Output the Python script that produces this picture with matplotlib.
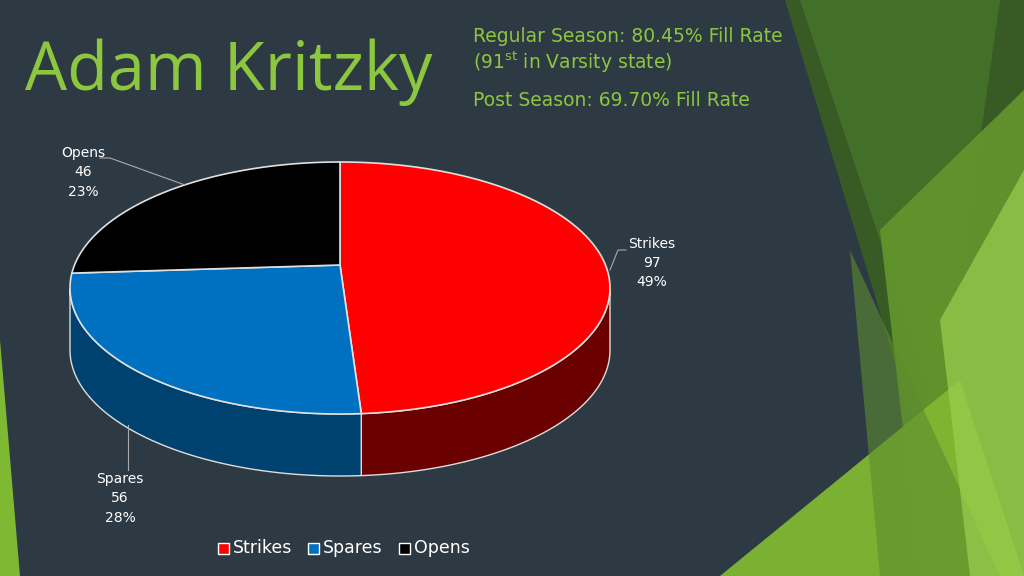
import numpy as np
import matplotlib
matplotlib.use("Agg")
import matplotlib.pyplot as plt
from matplotlib.patches import Polygon

categories = ["Strikes", "Spares", "Opens"]
values = [97, 56, 46]
percents = ["49%", "28%", "23%"]
top_colors = ["#ff0000", "#0070c0", "#000000"]
side_colors = ["#6a0000", "#00426f", "#111111"]

fig = plt.figure(figsize=(10.24, 5.76), dpi=100)
fig.patch.set_facecolor("#2d3a44")
ax = fig.add_axes([0, 0, 1, 1])
ax.set_xlim(0, 1024); ax.set_ylim(576, 0); ax.axis("off")
ax.set_facecolor("#2d3a44")

shapes = [
    ([(785, 0), (1024, 0), (1024, 576), (960, 576)], "#3a5f22", 0.9),
    ([(800, 0), (1000, 0), (940, 420)], "#44732a", 0.9),
    ([(880, 230), (1024, 90), (1024, 576), (920, 576)], "#64962c", 0.9),
    ([(720, 576), (960, 380), (1024, 576)], "#7fb832", 0.95),
    ([(850, 250), (1000, 576), (880, 576)], "#5d8c2f", 0.6),
    ([(940, 320), (1024, 170), (1024, 576), (970, 576)], "#9ccf4f", 0.7),
    ([(0, 340), (20, 576), (0, 576)], "#7fb832", 1.0),
]
for pts, c, a in shapes:
    ax.add_patch(Polygon(pts, closed=True, color=c, alpha=a, lw=0))

cx, cy, rx, ry, depth = 340, 288, 270, 126, 62
apex = (340, 265)
total = sum(values)
angles = [90]
for v in values:
    angles.append(angles[-1] - v / total * 360)

def pt(t):
    r = np.radians(t)
    return cx + rx * np.cos(r), cy - ry * np.sin(r)

for i in range(len(values)):
    ts = np.linspace(angles[i], angles[i + 1], 200)
    ts = ts[np.sin(np.radians(ts)) <= 0.0001]
    if len(ts) < 2:
        continue
    top = [pt(t) for t in ts]
    bot = [(x, y + depth) for x, y in top[::-1]]
    ax.add_patch(Polygon(top + bot, closed=True, fc=side_colors[i], ec="#dddddd", lw=1))

for i in range(len(values)):
    ts = np.linspace(angles[i], angles[i + 1], 200)
    pts = [apex] + [pt(t) for t in ts]
    ax.add_patch(Polygon(pts, closed=True, fc=top_colors[i], ec="#e0e0e0", lw=1.2))

lab = dict(fontsize=10, color="white", ha="center", va="center", linespacing=1.5)
ax.text(652, 263, f"{categories[0]}\n{values[0]}\n{percents[0]}", **lab)
ax.text(120, 498, f"{categories[1]}\n{values[1]}\n{percents[1]}", **lab)
ax.text(83, 172, f"{categories[2]}\n{values[2]}\n{percents[2]}", **lab)
ax.plot([610, 618, 626], [270, 250, 250], color="#aaaaaa", lw=0.8)
ax.plot([128, 128], [425, 470], color="#aaaaaa", lw=0.8)
ax.plot([185, 110, 100], [185, 158, 158], color="#aaaaaa", lw=0.8)

lx = 218
for i, c in enumerate(categories):
    ax.add_patch(Polygon([(lx, 543), (lx + 11, 543), (lx + 11, 554), (lx, 554)],
                         fc=top_colors[i], ec="white", lw=1))
    ax.text(lx + 15, 548, c, fontsize=12.5, color="white", va="center", ha="left")
    lx += {0: 90, 1: 91}.get(i, 0)

green = "#8dc63f"
ax.text(25, 72, "Adam Kritzky", fontsize=48, color=green, va="center", ha="left",
        family="Open Sans")
ax.text(473, 37, "Regular Season: 80.45% Fill Rate", fontsize=13.5, color=green, va="center")
ax.text(473, 62, r"(91$^{\mathrm{st}}$ in Varsity state)", fontsize=13.5, color=green, va="center")
ax.text(473, 100, "Post Season: 69.70% Fill Rate", fontsize=13.5, color=green, va="center")

fig.savefig("out.png", dpi=100, facecolor=fig.get_facecolor())
